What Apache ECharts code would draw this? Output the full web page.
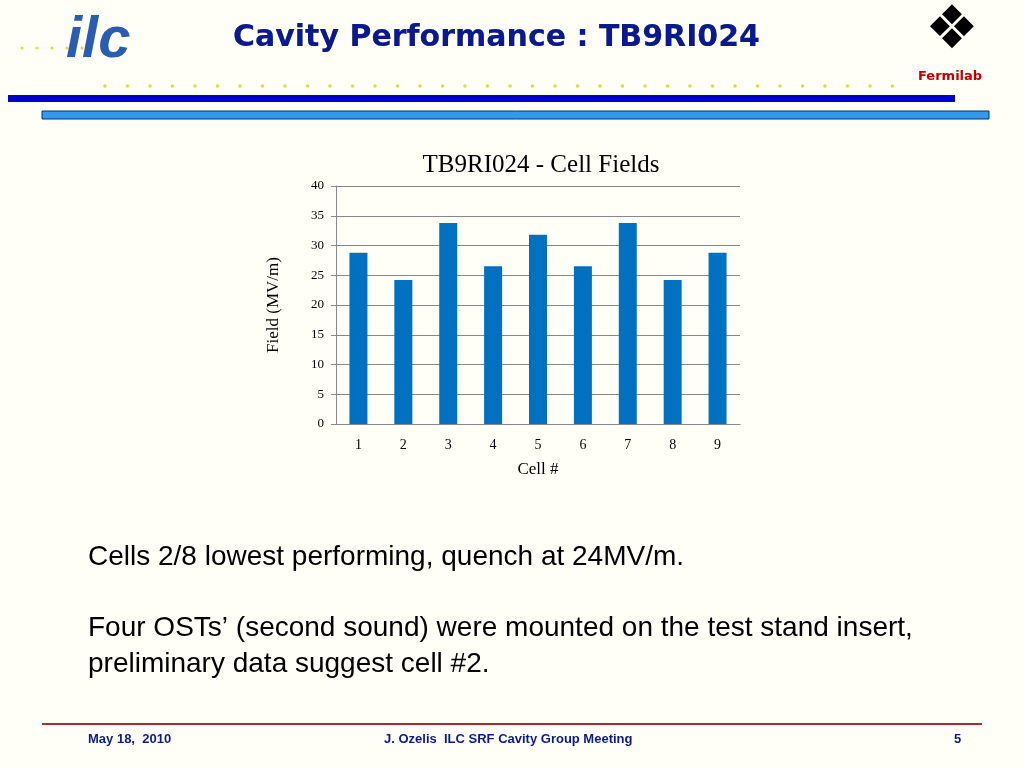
<!DOCTYPE html>
<html><head><meta charset="utf-8">
<script src="https://cdn.jsdelivr.net/npm/echarts@6/dist/echarts.min.js"></script>
<style>html,body{margin:0;padding:0;background:#fffff7}#main{width:1024px;height:768px}</style>
</head><body><div id="main"></div>
<script>
// cell numbers and peak field per cell
var cells = ['1','2','3','4','5','6','7','8','9'];
var fields = [28.8, 24.2, 33.8, 26.5, 31.8, 26.5, 33.8, 24.2, 28.8];

var chart = echarts.init(document.getElementById('main'));

// dotted line under the header
var dots = [];
for (var x = 105; x < 910; x += 22.5) {
    dots.push({type: 'circle', shape: {cx: x, cy: 86, r: 1.8}, style: {fill: '#e0d84a'}});
}
for (var k = 0; k < 5; k++) {
    dots.push({type: 'circle', shape: {cx: 22 + k * 15, cy: 48, r: 1.5}, style: {fill: '#e0d84a'}});
}

var option = {
    backgroundColor: '#fffff7',
    title: {
        text: 'TB9RI024 - Cell Fields',
        left: 536, top: 148, textAlign: 'center',
        textStyle: {fontFamily: 'Liberation Serif', fontSize: 25, fontWeight: 'normal', color: '#000'}
    },
    grid: {left: 336, right: 284, top: 186, bottom: 344},
    xAxis: {
        type: 'category', data: cells,
        name: 'Cell #', nameLocation: 'middle', nameGap: 37,
        nameTextStyle: {fontFamily: 'Liberation Serif', fontSize: 17, color: '#000'},
        axisLine: {lineStyle: {color: '#888'}},
        axisTick: {show: false},
        axisLabel: {fontFamily: 'Liberation Serif', fontSize: 14, color: '#000', margin: 14}
    },
    yAxis: {
        type: 'value', min: 0, max: 40, interval: 5,
        name: 'Field (MV/m)', nameLocation: 'middle', nameGap: 54,
        nameTextStyle: {fontFamily: 'Liberation Serif', fontSize: 17, color: '#000'},
        axisLine: {show: true, lineStyle: {color: '#888'}},
        axisTick: {show: true, length: 5, inside: false, lineStyle: {color: '#888'}},
        axisLabel: {fontFamily: 'Liberation Serif', fontSize: 13, color: '#000', margin: 12},
        splitLine: {lineStyle: {color: '#888'}}
    },
    series: [{
        type: 'bar', data: fields, barWidth: 18,
        itemStyle: {color: '#0070c0'}
    }],
    graphic: dots.concat([
        {type: 'text', left: 233, top: 23, style: {text: 'Cavity Performance : TB9RI024', font: 'bold 30px "DejaVu Sans"', fill: '#a0a0b0'}, z: 1, x: 2, y: 2},
        {type: 'text', left: 233, top: 23, style: {text: 'Cavity Performance : TB9RI024', font: 'bold 30px "DejaVu Sans"', fill: '#0a1a8c'}, z: 2},
        {type: 'text', left: 66, top: 12, style: {text: 'ilc', font: 'italic bold 58px "Liberation Sans"', fill: '#2a5db0'}},
        {type: 'text', left: 925, top: 2, style: {text: '\u2756', font: 'bold 60px "DejaVu Sans"', fill: '#000'}},
        {type: 'text', left: 918, top: 70, style: {text: 'Fermilab', font: 'bold 13px "DejaVu Sans"', fill: '#c00000'}},
        {type: 'rect', shape: {x: 8, y: 95, width: 947, height: 7}, style: {fill: '#0000cc'}},
        {type: 'rect', shape: {x: 42, y: 111, width: 947, height: 8}, style: {fill: '#3399ee', stroke: '#003366', lineWidth: 1}},
        {type: 'text', left: 88, top: 543, style: {text: 'Cells 2/8 lowest performing, quench at 24MV/m.', font: '28px "Liberation Sans"', fill: '#000'}},
        {type: 'text', left: 88, top: 610, style: {text: 'Four OSTs\u2019 (second sound) were mounted on the test stand insert,\npreliminary data suggest cell #2.', font: '28px "Liberation Sans"', fill: '#000', lineHeight: 36}},
        {type: 'rect', shape: {x: 42, y: 723, width: 940, height: 2}, style: {fill: '#a03030'}},
        {type: 'text', left: 88, top: 733, style: {text: 'May 18,  2010', font: 'bold 13px "Liberation Sans"', fill: '#0a1a8c'}},
        {type: 'text', left: 384, top: 733, style: {text: 'J. Ozelis  ILC SRF Cavity Group Meeting', font: 'bold 13px "Liberation Sans"', fill: '#0a1a8c'}},
        {type: 'text', left: 954, top: 733, style: {text: '5', font: 'bold 13px "Liberation Sans"', fill: '#0a1a8c'}}
    ])
};
chart.setOption(option);
</script>
</body></html>
